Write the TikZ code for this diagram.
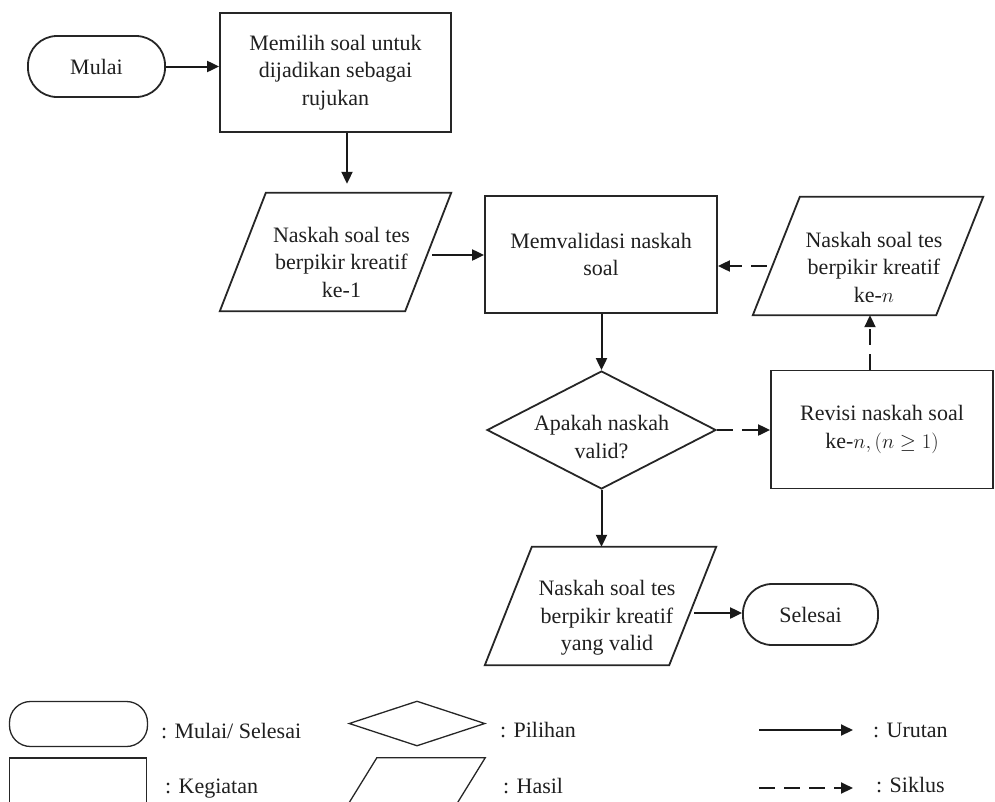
\documentclass[tikz,border=0pt]{standalone}
\usepackage{fontspec}
\setmainfont{Liberation Serif}
\usetikzlibrary{shapes.geometric,arrows.meta,calc}

% outline of a slanted (input/output) box over a plain named node
\newcommand{\slantbox}[3][]{%
  \draw[outline,#1] ($(#2.north west)+(#3,0)$) -- (#2.north east)
    -- ($(#2.south east)-(#3,0)$) -- (#2.south west) -- cycle;}

\begin{document}
\begin{tikzpicture}[x=1pt,y=-1pt,
  every node/.style={font=\fontsize{22}{27.5}\selectfont, text=black!88},
  outline/.style={draw=black!85, line width=1.8pt},
  thin outline/.style={line width=1.3pt},
  terminal/.style={outline, rectangle, rounded corners=29pt, inner sep=0pt},
  process/.style={outline, rectangle, inner sep=0pt, align=center},
  slot/.style={rectangle, inner sep=0pt},
  txt/.style={align=center, inner sep=0pt},
  choice/.style={outline, diamond, inner sep=0pt},
  lbl/.style={anchor=base west, inner sep=0pt},
  arr/.style={draw=black!90, line width=2pt, -{Triangle[length=12pt,width=11pt]}},
  cyc/.style={arr, dash pattern=on 16pt off 9pt},
]
\useasboundingbox (0,0) rectangle (995,801);
\clip (0,0) rectangle (995,801);

% ---- flow ----
\node[terminal, minimum width=137pt, minimum height=61pt] (m) at (96.5,66.5) {Mulai};
\node[process, minimum width=231pt, minimum height=119pt] (b1) at (335.5,72.5)
  {Memilih soal untuk\\dijadikan sebagai\\rujukan};

\node[slot, minimum width=231pt, minimum height=118pt] (p1) at (335.5,252) {};
\slantbox{p1}{46}
\node[txt] (p1t) at ($(p1)+(6,10)$) {Naskah soal tes\\berpikir kreatif\\ke-1};

\node[process, minimum width=232pt, minimum height=117pt] (b2) at (601,254.5)
  {Memvalidasi naskah\\soal};

\node[slot, minimum width=230pt, minimum height=118pt] (p2) at (868,256) {};
\slantbox{p2}{47}
\node[txt] (p2t) at ($(p2)+(6,11)$) {Naskah soal tes\\berpikir kreatif\\ke-$n$};

\node[choice, minimum width=229pt, minimum height=118pt] (d) at (601.5,430) {};
\node[txt] (dt) at ($(d)+(0,7)$) {Apakah naskah\\valid?};

\node[process, minimum width=222pt, minimum height=118pt] (r) at (882,429.5)
  {Revisi naskah soal\\ke-$n, (n \geq 1)$};

\node[slot, minimum width=231pt, minimum height=118pt] (p3) at (600.5,606) {};
\slantbox{p3}{47}
\node[txt] (p3t) at ($(p3)+(6.5,12)$) {Naskah soal tes\\berpikir kreatif\\yang valid};

\node[terminal, minimum width=135pt, minimum height=61pt] (s) at (810.5,614.5) {Selesai};

% ---- connectors ----
\draw[arr] (m.east) -- (m.east -| b1.west);
\coordinate (c1) at ($(b1.south)+(11.5,0)$);
\draw[arr, shorten >=9pt] (c1) -- (c1 |- p1.north);
\coordinate (p1r) at ($(p1.east)+(-19,3)$);
\draw[arr] (p1r) -- (p1r -| b2.west);
\coordinate (p2l) at ($(p2.west)+(14,10)$);
\draw[cyc] (p2l) -- (p2l -| b2.east);
\draw[arr] (b2.south -| d.north) -- (d.north);
\draw[cyc] (d.east) -- (d.east -| r.west);
\coordinate (c2) at ($(r.north)+(-12,0)$);
\draw[cyc] (c2) -- (c2 |- p2.south);
\draw[arr] (d.south) -- (d.south |- p3.north);
\coordinate (p3r) at ($(p3.east)+(-22,7)$);
\draw[arr] (p3r) -- (p3r -| s.west);

% ---- legend ----
\node[terminal, thin outline, rounded corners=21pt, minimum width=138pt, minimum height=45pt] (lt) at (78.5,724) {};
\node[lbl] (ltt) at (161,738) {: Mulai/ Selesai};
\node[choice, thin outline, minimum width=136pt, minimum height=45pt] (ld) at (417,723.5) {};
\node[lbl] (ldt) at (500,737) {: Pilihan};
\node[process, thin outline, minimum width=137pt, minimum height=45pt] (lr) at (78,780.5) {};
\node[lbl] (lrt) at (165,793) {: Kegiatan};
\node[slot, minimum width=136pt, minimum height=45pt] (lp) at (417,780.5) {};
\slantbox[thin outline]{lp}{28}
\node[lbl] (lpt) at (503,793) {: Hasil};
\coordinate (ua) at (759,730);
\coordinate (ub) at (853,730);
\draw[arr] (ua) -- (ub);
\node[lbl] (ut) at (873,737) {: Urutan};
\coordinate (sa) at (759,788);
\coordinate (sb) at (853,788);
\draw[cyc] (sa) -- (sb);
\node[lbl] (st) at (876,792) {: Siklus};
\end{tikzpicture}
\end{document}
